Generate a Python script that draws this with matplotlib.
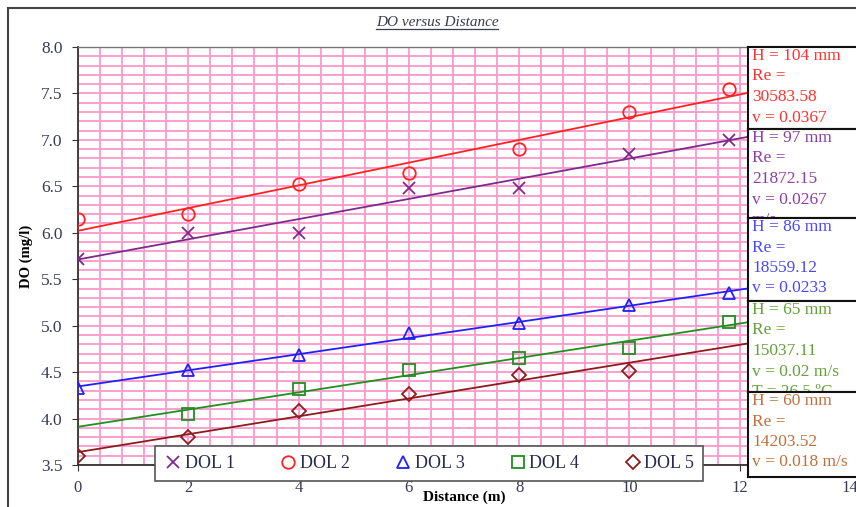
import numpy as np
import matplotlib
matplotlib.use("Agg")
import matplotlib.pyplot as plt
from matplotlib.lines import Line2D
from matplotlib.transforms import IdentityTransform
from matplotlib.ticker import MultipleLocator, FormatStrFormatter

plt.rcParams['font.family'] = ['Liberation Serif', 'DejaVu Serif']

# measured DO readings along the channel
distance = [0, 2, 4, 6, 8, 10, 11.8]
dol1 = [5.72, 6.00, 6.00, 6.48, 6.48, 6.85, 7.00]
dol2 = [6.15, 6.20, 6.52, 6.64, 6.90, 7.30, 7.55]
dol3 = [4.33, 4.52, 4.68, 4.92, 5.03, 5.22, 5.35]
distance4 = [2, 4, 6, 8, 10, 11.8]
dol4 = [4.05, 4.32, 4.52, 4.65, 4.76, 5.04]
distance5 = [0, 2, 4, 6, 8, 10]
dol5 = [3.60, 3.80, 4.08, 4.26, 4.47, 4.51]

labels = ['DOL 1', 'DOL 2', 'DOL 3', 'DOL 4', 'DOL 5']
x_ticks = [0, 2, 4, 6, 8, 10, 12, 14]
y_ticks = [3.5, 4.0, 4.5, 5.0, 5.5, 6.0, 6.5, 7.0, 7.5, 8.0]

# flow conditions for each run (long lines run past the box edge)
run_notes = [
    ['H = 104 mm', 'Re =', '30583.58', 'v = 0.0367'],
    ['H = 97 mm', 'Re =', '21872.15', 'v = 0.0267', 'm/s'],
    ['H = 86 mm', 'Re =', '18559.12', 'v = 0.0233'],
    ['H = 65 mm', 'Re =', '15037.11', 'v = 0.02 m/s', 'T = 26.5 \u00baC'],
    ['H = 60 mm', 'Re =', '14203.52', 'v = 0.018 m/s'],
]

series = [(distance, dol1), (distance, dol2), (distance, dol3),
          (distance4, dol4), (distance5, dol5)]
colors = ['#7d2a8c', '#ff2222', '#2020ff', '#1f8f1f', '#8c1c1c']
markers = ['x', 'o', '^', 's', 'D']
note_colors = ['#ff3333', '#8e3fa6', '#4848ff', '#66a03c', '#c0703c']

W, H = 856, 507
fig = plt.figure(figsize=(W / 100, H / 100), dpi=100)

# outer chart frame
fig.add_artist(plt.Rectangle((8 / W, -0.1), 1.2, 1 - 8 / H + 0.1,
                             transform=fig.transFigure, fill=False,
                             edgecolor='#444444', lw=1.5))

ax = fig.add_axes([78 / W, 42 / H, 772 / W, 418 / H])
ax.set_xlim(0, 14)
ax.set_ylim(3.5, 8.0)
ax.set_xticks(x_ticks)
ax.set_yticks(y_ticks)
ax.yaxis.set_major_formatter(FormatStrFormatter('%.1f'))
ax.xaxis.set_minor_locator(MultipleLocator(0.4))
ax.yaxis.set_minor_locator(MultipleLocator(0.1))
ax.grid(which='both', color='#ff9fcf', lw=1.4)
ax.set_axisbelow(True)
ax.tick_params(which='minor', length=0)
ax.tick_params(which='major', direction='out', length=4, color='#333333',
               labelcolor='#3a3a58')
ax.tick_params(axis='x', pad=7, labelsize=12)
ax.tick_params(axis='y', pad=7, labelsize=12.5)
for side in ['left', 'bottom']:
    ax.spines[side].set_color('#333333')
    ax.spines[side].set_linewidth(1.3)
for side in ['top', 'right']:
    ax.spines[side].set_color('#777777')
    ax.spines[side].set_linewidth(1.0)

handles = []
for (xs, ys), c, m, lab in zip(series, colors, markers, labels):
    size = 9 if m != 'D' else 7
    ax.plot(xs, ys, linestyle='none', marker=m, ms=size,
            mfc='none', mec=c, mew=1.3, zorder=4)
    coef = np.polyfit(xs, ys, 1)
    line_x = np.array([0, 14])
    ax.plot(line_x, np.polyval(coef, line_x), color=c, lw=1.3, zorder=3)
    handles.append(Line2D([], [], linestyle='none', marker=m, ms=size,
                          mfc='none', mec=c, mew=1.3, label=lab))

ax.set_xlabel('Distance (m)', fontsize=11, fontweight='bold', labelpad=-4)
ax.set_ylabel('DO (mg/l)', fontsize=10.5, fontweight='bold', labelpad=6)

leg = fig.legend(handles=handles, loc='center',
                 bbox_to_anchor=(429 / W, 1 - 463.5 / H), ncol=5,
                 fontsize=13, frameon=True, fancybox=False,
                 edgecolor='#555555', framealpha=1, handlelength=1.0,
                 handletextpad=0.15, columnspacing=2.45, borderpad=0.5)
leg.get_frame().set_linewidth(1.2)
for t in leg.get_texts():
    t.set_color('#2a2a50')

# boxes with the run conditions on the right
box_edges = [47, 129, 218, 301, 392, 477]
for i, (lines, c) in enumerate(zip(run_notes, note_colors)):
    top, bottom = box_edges[i], box_edges[i + 1]
    bax = fig.add_axes([748 / W, 1 - bottom / H, 130 / W, (bottom - top) / H])
    bax.set_xticks([])
    bax.set_yticks([])
    for s in bax.spines.values():
        s.set_color('#111111')
        s.set_linewidth(1.5)
    bax.set_xlim(0, 130)
    bax.set_ylim(bottom - top, 0)
    for j, txt in enumerate(lines):
        bax.text(4, 9 + 20.5 * j, txt, color=c, fontsize=12.5,
                 va='center', ha='left', clip_on=True)

title = fig.text(437 / W, 1 - 22 / H, 'DO versus Distance', ha='center',
                 va='center', fontsize=11, fontstyle='italic',
                 color='#3a3a50')
fig.canvas.draw()
bb = title.get_window_extent()
fig.add_artist(Line2D([bb.x0, bb.x1], [bb.y0, bb.y0], lw=0.9,
                      color='#3a3a50', transform=IdentityTransform()))

fig.savefig('out.png', dpi=100)
